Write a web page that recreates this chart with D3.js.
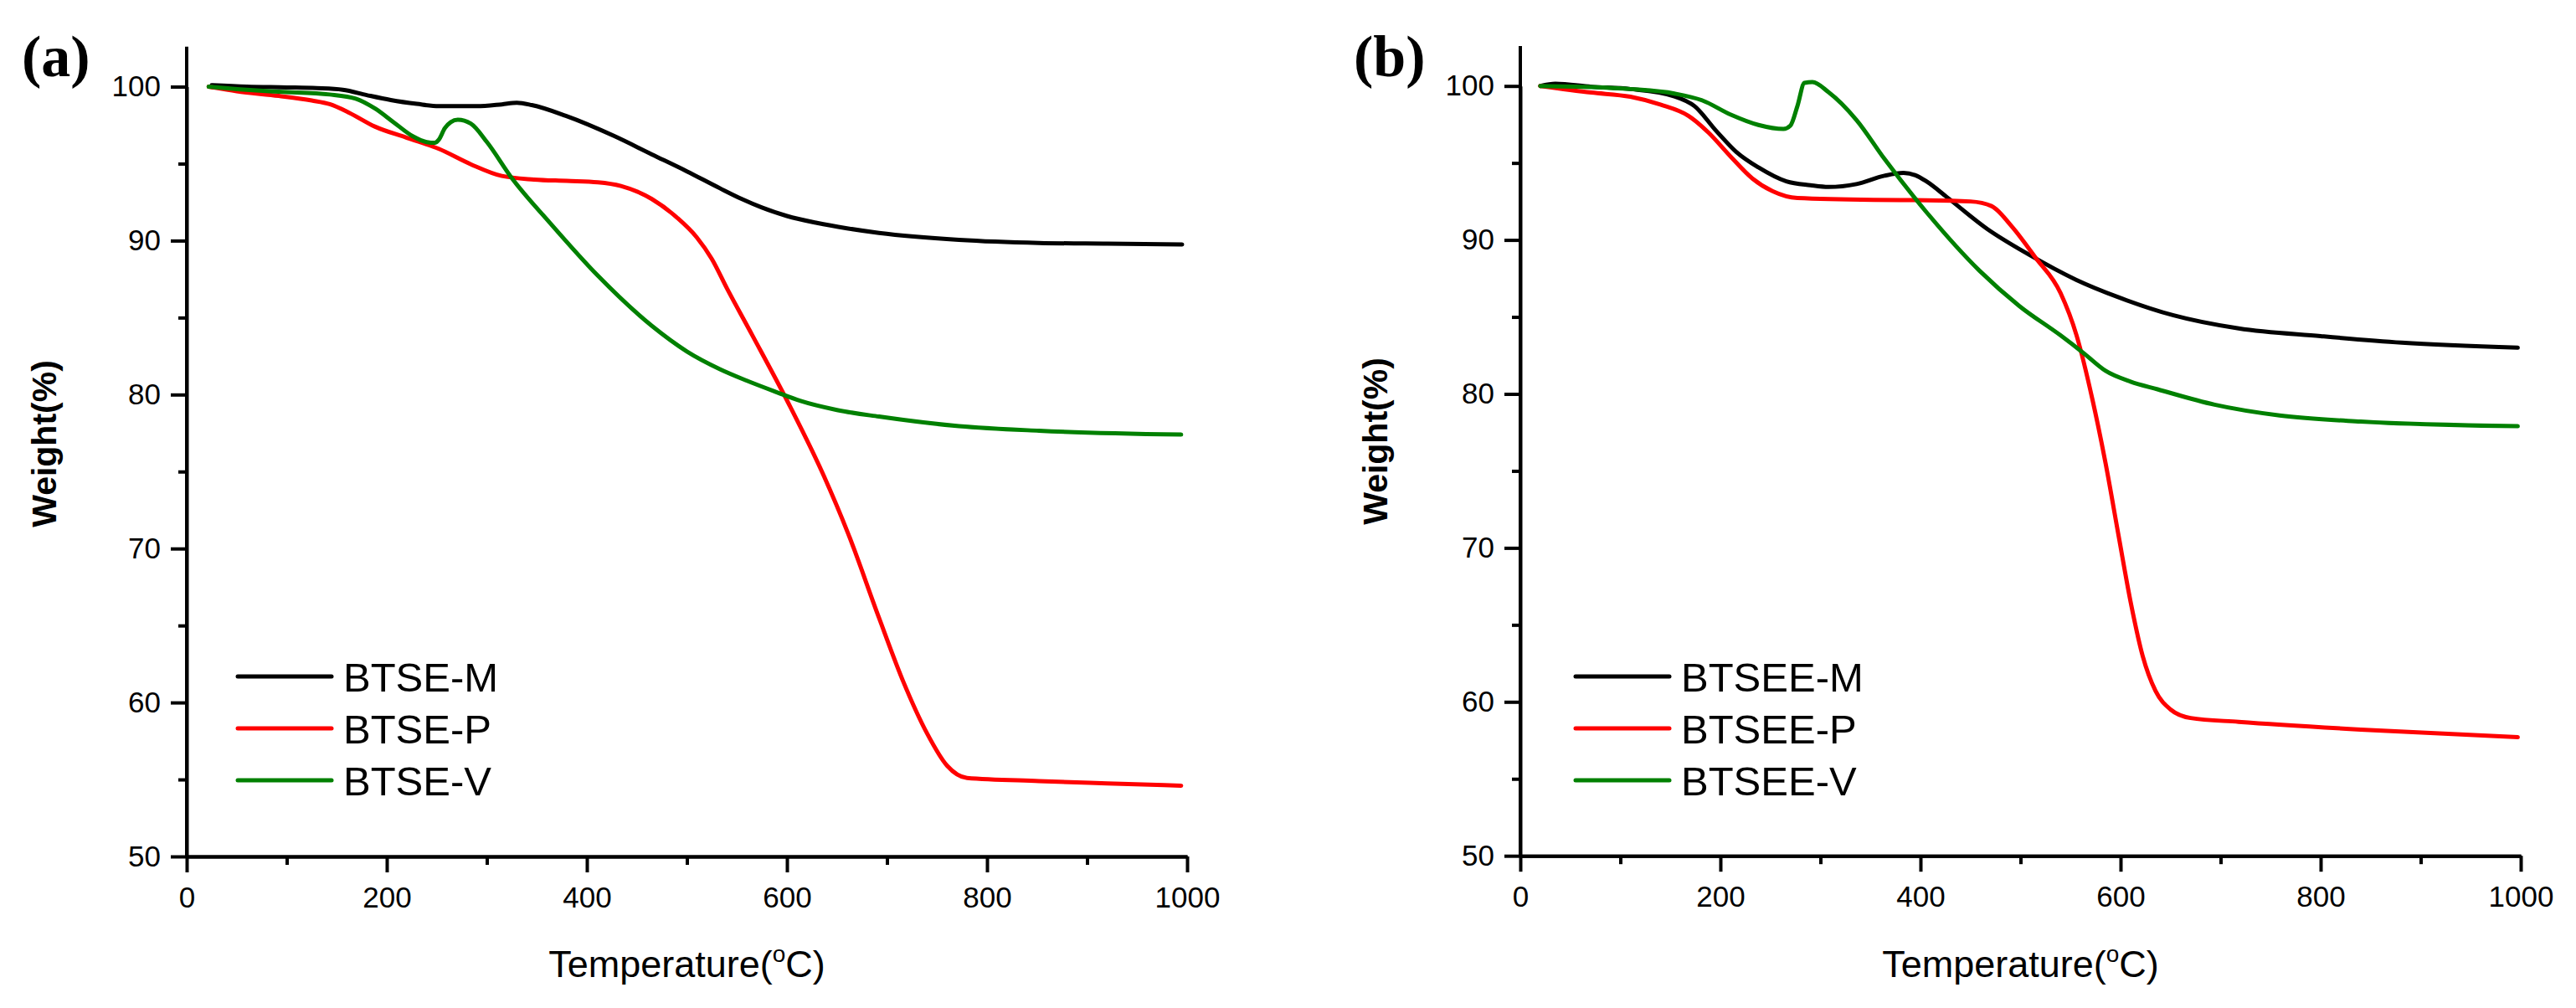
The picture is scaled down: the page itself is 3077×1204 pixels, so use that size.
<!DOCTYPE html>
<html>
<head>
<meta charset="utf-8">
<title>TGA curves</title>
<script src="https://cdn.jsdelivr.net/npm/d3@7"></script>
<style>
  html, body { margin: 0; background: #FFF; }
  svg { display: block; }
  .axis path, .axis line { stroke: #000; stroke-width: 4px; }
  .axis text { font-family: "Liberation Sans", Arial, sans-serif; font-size: 35px; fill: #000; }
</style>
</head>
<body>
<script>
  var W = 3077, H = 1204;

  // tick labels
  var xMajor = [0, 200, 400, 600, 800, 1000];
  var xMinor = [100, 300, 500, 700, 900];
  var yMajor = [50, 60, 70, 80, 90, 100];
  var yMinor = [55, 65, 75, 85, 95];

  // panel (a) : [temperature, weight %]
  var btseM = [[25,100.1],[60,100.0],[100,99.95],[130,99.9],[156,99.8],[180,99.45],[204,99.13],[230,98.88],[252,98.73],[290,98.73],[315,98.85],[330,98.95],[345,98.8],[379,98.1],[427,96.8],[465,95.6],[500,94.5],[533,93.4],[555,92.7],[575,92.15],[600,91.6],[630,91.15],[660,90.8],[692,90.5],[772,90.05],[852,89.85],[920,89.8],[995,89.75]];
  var btseP = [[22,100],[50,99.7],[92,99.4],[125,99.1],[143,98.86],[162,98.32],[188,97.41],[220,96.68],[252,95.96],[284,94.96],[315,94.2],[347,93.97],[380,93.88],[411,93.79],[434,93.55],[465,92.7],[490,91.5],[510,90.2],[525,88.8],[540,86.9],[565,83.9],[601,79.5],[637,74.7],[661,71.0],[692,65.5],[716,61.4],[740,58.0],[760,55.9],[780,55.1],[852,54.9],[920,54.75],[994,54.6]];
  var btseV = [[22,100],[60,99.8],[92,99.67],[143,99.49],[169,99.22],[188,98.59],[207,97.68],[226,96.78],[240,96.4],[248,96.35],[252,96.55],[258,97.3],[264,97.7],[271,97.85],[284,97.6],[300,96.41],[325,94.06],[363,91.16],[411,87.72],[465,84.46],[500,82.8],[533,81.65],[560,80.9],[590,80.15],[613,79.6],[650,79.0],[692,78.57],[772,77.95],[852,77.65],[994,77.4]];

  // panel (b)
  var btseeM = [[20,100.0],[35,100.15],[71,99.95],[110,99.8],[154,99.33],[174,98.7],[196,97.07],[216,95.71],[238,94.71],[266,93.8],[290,93.55],[308,93.44],[336,93.63],[364,94.17],[383,94.35],[395,94.2],[406,93.8],[426,92.8],[467,90.7],[507,89.1],[556,87.4],[597,86.3],[653,85.1],[718,84.25],[800,83.75],[881,83.33],[997,83.0]];
  var btseeP = [[20,100],[71,99.57],[110,99.3],[140,98.79],[168,98.06],[188,96.98],[210,95.43],[232,93.99],[252,93.17],[277,92.72],[353,92.6],[406,92.58],[450,92.5],[471,92.2],[491,90.9],[515,88.85],[540,86.55],[556,83.8],[572,79.6],[585,75.5],[598,70.8],[610,66.5],[622,63.0],[635,60.7],[650,59.5],[670,58.95],[718,58.7],[840,58.2],[997,57.7]];
  var btseeV = [[20,100],[71,99.93],[110,99.8],[154,99.51],[182,99.06],[210,98.15],[238,97.47],[263,97.21],[270,97.43],[277,98.7],[284,100.2],[292,100.25],[308,99.6],[336,97.79],[364,95.26],[406,91.8],[459,88.0],[499,85.7],[540,83.8],[564,82.6],[585,81.5],[610,80.8],[637,80.3],[694,79.3],[759,78.6],[840,78.2],[997,77.9]];

  var colors = ['#000000', '#FF0000', '#008000'];

  var panels = [
    { tag: '(a)', left: 223, top: 103.5, names: ['BTSE-M', 'BTSE-P', 'BTSE-V'], data: [btseM, btseP, btseV], legX: 61, labX: 187, tagX: 26, ylabX: 67, ylabY: 530 },
    { tag: '(b)', left: 1816, top: 102.7, names: ['BTSEE-M', 'BTSEE-P', 'BTSEE-V'], data: [btseeM, btseeP, btseeV], legX: 66, labX: 192, tagX: 1617, ylabX: 1657, ylabY: 527 }
  ];

  var pw = 1195, ph = 919.5;   // 100 -> 50 span

  var svg = d3.select('body').append('svg')
    .attr('width', W)
    .attr('height', H);

  svg.append('rect').attr('width', W).attr('height', H).attr('fill', '#FFF');

  panels.forEach(function(p){
    var x = d3.scaleLinear().domain([0, 1000]).range([0, pw]);
    var y = d3.scaleLinear().domain([50, 100]).range([ph, 0]);
    var g = svg.append('g').attr('transform', 'translate(' + p.left + ',' + p.top + ')');

    // minor ticks
    g.append('g').attr('class', 'axis')
      .attr('transform', 'translate(0,' + ph + ')')
      .call(d3.axisBottom(x).tickValues(xMinor).tickSize(10).tickSizeOuter(0).tickFormat(''));
    g.append('g').attr('class', 'axis')
      .call(d3.axisLeft(y).tickValues(yMinor).tickSize(10).tickSizeOuter(0).tickFormat(''));

    // major ticks + labels
    g.append('g').attr('class', 'axis')
      .attr('transform', 'translate(0,' + ph + ')')
      .call(d3.axisBottom(x).tickValues(xMajor).tickSize(19).tickPadding(17).tickSizeOuter(0).tickFormat(d3.format('d')));

    var yAxis = g.append('g').attr('class', 'axis')
      .call(d3.axisLeft(y).tickValues(yMajor).tickSize(19).tickPadding(12).tickSizeOuter(0).tickFormat(d3.format('d')));
    // y axis runs a little above 100
    yAxis.select('.domain').attr('d', 'M0,' + ph + 'V' + y(102.6));

    // curves
    var line = d3.line()
      .x(function(d){ return x(d[0]); })
      .y(function(d){ return y(d[1]); })
      .curve(d3.curveMonotoneX);

    p.data.forEach(function(s, i){
      g.append('path')
        .datum(s)
        .attr('d', line)
        .attr('fill', 'none')
        .attr('stroke', colors[i])
        .attr('stroke-width', 5)
        .attr('stroke-linejoin', 'round')
        .attr('stroke-linecap', 'round');
    });

    // legend
    var leg = g.append('g').attr('transform', 'translate(0,' + (808 - p.top) + ')');
    p.names.forEach(function(n, i){
      var yy = i * 62;
      leg.append('line')
        .attr('x1', p.legX).attr('x2', p.legX + 112)
        .attr('y1', yy).attr('y2', yy)
        .attr('stroke', colors[i])
        .attr('stroke-width', 5)
        .attr('stroke-linecap', 'round');
      leg.append('text')
        .attr('x', p.labX)
        .attr('y', yy + 18)
        .attr('font-family', '"Liberation Sans", Arial, sans-serif')
        .attr('font-size', '49px')
        .text(n);
    });

    // axis titles
    g.append('text')
      .attr('x', pw / 2)
      .attr('y', 1167 - p.top)
      .attr('text-anchor', 'middle')
      .attr('font-family', '"Liberation Sans", Arial, sans-serif')
      .attr('font-size', '45px')
      .call(function(t){
        t.append('tspan').text('Temperature(');
        t.append('tspan').attr('font-size', '28px').attr('dy', -18).text('o');
        t.append('tspan').attr('dy', 18).text('C)');
      });

    svg.append('text')
      .attr('transform', 'translate(' + p.ylabX + ',' + p.ylabY + ') rotate(-90)')
      .attr('text-anchor', 'middle')
      .attr('font-family', '"Liberation Sans", Arial, sans-serif')
      .attr('font-weight', 'bold')
      .attr('font-size', '41px')
      .text('Weight(%)');

    // panel tag
    svg.append('text')
      .attr('x', p.tagX)
      .attr('y', 91)
      .attr('font-family', '"Liberation Serif", "Times New Roman", serif')
      .attr('font-weight', 'bold')
      .attr('font-size', '70px')
      .text(p.tag);
  });
</script>
</body>
</html>
